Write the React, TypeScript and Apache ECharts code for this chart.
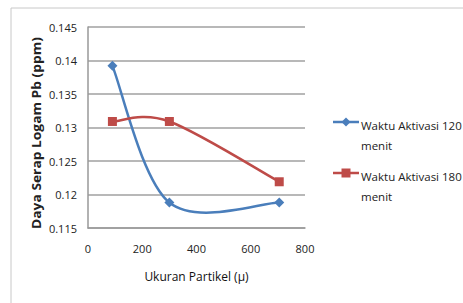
import React, { useEffect, useRef } from "react";
import * as echarts from "echarts";

const xValues = [90, 300, 705];
const series120 = [0.1392, 0.1188, 0.1188];
const series180 = [0.1309, 0.1309, 0.1219];
const seriesNames = ["Waktu Aktivasi 120\nmenit", "Waktu Aktivasi 180\nmenit"];
const xTitle = "Ukuran Partikel (μ)";
const yTitle = "Daya Serap Logam Pb (ppm)";

const BLUE = "#4A7EBB";
const RED = "#BE4B48";
const FONT = "'Open Sans', 'Liberation Sans', sans-serif";

// Excel-like smooth curve (Catmull-Rom converted to cubic Bezier) built from projected data points
function smoothCurve(color: string, count: number) {
  return (params: any, api: any) => {
    if (params.dataIndex !== 0) return null;
    const pts: number[][] = [];
    for (let i = 0; i < count; i++) pts.push(api.coord([api.value(0, i), api.value(1, i)]));
    const children: any[] = [];
    for (let i = 0; i < pts.length - 1; i++) {
      const p0 = pts[Math.max(0, i - 1)];
      const p1 = pts[i];
      const p2 = pts[i + 1];
      const p3 = pts[Math.min(pts.length - 1, i + 2)];
      children.push({
        type: "bezierCurve",
        shape: {
          x1: p1[0],
          y1: p1[1],
          x2: p2[0],
          y2: p2[1],
          cpx1: p1[0] + (p2[0] - p0[0]) / 6,
          cpy1: p1[1] + (p2[1] - p0[1]) / 6,
          cpx2: p2[0] - (p3[0] - p1[0]) / 6,
          cpy2: p2[1] - (p3[1] - p1[1]) / 6,
        },
        style: { stroke: color, lineWidth: 2.5, fill: "none" },
      });
    }
    return { type: "group", children };
  };
}

export default function App() {
  const ref = useRef<HTMLDivElement>(null);
  useEffect(() => {
    if (!ref.current) return;
    const chart = echarts.init(ref.current, null, { renderer: "svg" });
    const legendItem = (y: number, color: string, symbol: string, name: string) => ({
      type: "group",
      children: [
        { type: "line", shape: { x1: 333, y1: y, x2: 359, y2: y }, style: { stroke: color, lineWidth: 2.5 } },
        symbol === "diamond"
          ? { type: "polygon", shape: { points: [[346, y - 4.5], [350.5, y], [346, y + 4.5], [341.5, y]] }, style: { fill: color } }
          : { type: "rect", shape: { x: 341.5, y: y - 4.5, width: 9, height: 9 }, style: { fill: color } },
        {
          type: "text",
          x: 361,
          y: y - 7,
          style: { text: name, fill: "#222", font: `11.5px ${FONT}`, lineHeight: 20.5 },
        },
      ],
    });
    const data120 = xValues.map((x, i) => [x, series120[i]]);
    const data180 = xValues.map((x, i) => [x, series180[i]]);
    chart.setOption({
      animation: false,
      backgroundColor: "#fff",
      grid: { left: 88, top: 27, width: 217, height: 201, containLabel: false, outerBoundsMode: "none" },
      xAxis: {
        type: "value",
        min: 0,
        max: 800,
        interval: 200,
        name: xTitle,
        nameLocation: "middle",
        nameGap: 42,
        nameMoveOverlap: false,
        nameTextStyle: { color: "#111", fontSize: 12, fontFamily: FONT },
        axisLine: { show: true, lineStyle: { color: "#999", width: 1.5 } },
        axisTick: { show: false },
        axisLabel: { color: "#222", fontSize: 11, fontFamily: FONT, margin: 15 },
        splitLine: { show: false },
      },
      yAxis: {
        type: "value",
        min: 0.115,
        max: 0.145,
        interval: 0.005,
        axisLine: { show: true, lineStyle: { color: "#999", width: 1.5 } },
        axisTick: { show: false },
        axisLabel: {
          color: "#222",
          fontSize: 11,
          fontFamily: FONT,
          margin: 11,
          formatter: (v: number) => String(+v.toFixed(3)),
        },
        splitLine: { show: true, lineStyle: { color: "#a0a0a0", width: 1.5 } },
      },
      series: [
        {
          name: seriesNames[0] + " curve",
          type: "custom",
          renderItem: smoothCurve(BLUE, data120.length),
          data: data120,
          clip: false,
          z: 2,
        },
        {
          name: seriesNames[1] + " curve",
          type: "custom",
          renderItem: smoothCurve(RED, data180.length),
          data: data180,
          clip: false,
          z: 3,
        },
        {
          name: seriesNames[0],
          type: "scatter",
          data: data120,
          symbol: "diamond",
          symbolSize: 10,
          itemStyle: { color: BLUE, opacity: 1 },
          z: 4,
        },
        {
          name: seriesNames[1],
          type: "scatter",
          data: data180,
          symbol: "rect",
          symbolSize: 9,
          itemStyle: { color: RED, opacity: 1 },
          z: 5,
        },
      ],
      graphic: [
        { type: "rect", shape: { x: 11, y: 8, width: 470, height: 310 }, style: { fill: "none", stroke: "#c8c8c8", lineWidth: 1 }, z: -1 },
        {
          type: "text",
          x: 36,
          y: 133,
          rotation: Math.PI / 2,
          scaleX: 1.15,
          style: {
            text: yTitle,
            fill: "#222",
            font: `bold 12px ${FONT}`,
            align: "center",
            verticalAlign: "middle",
          },
        },
        legendItem(122, BLUE, "diamond", seriesNames[0]),
        legendItem(173, RED, "rect", seriesNames[1]),
      ],
    });
    return () => chart.dispose();
  }, []);
  return <div ref={ref} style={{ position: "absolute", left: 0, top: 0, width: 463, height: 303 }} />;
}
